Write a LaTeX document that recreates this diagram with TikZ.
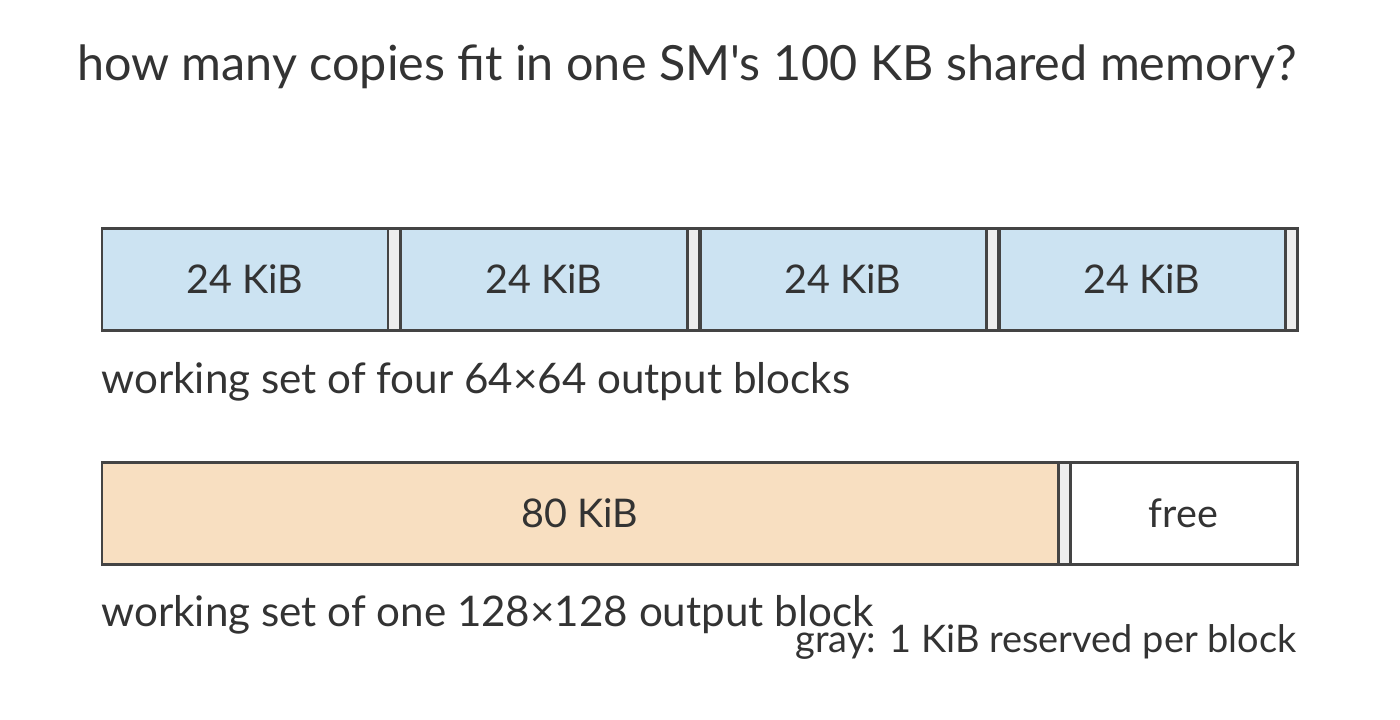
\documentclass[tikz,border=0pt]{standalone}
\usepackage{fontspec}
\setmainfont{Lato}[Ligatures=TeXOff]
\usepackage{tikz}
\usetikzlibrary{positioning,calc}

\definecolor{ink}{HTML}{333333}
\definecolor{edge}{HTML}{444444}
\definecolor{tileblue}{HTML}{CCE3F2}
\definecolor{tileorange}{HTML}{F8DFC1}
\definecolor{reserved}{HTML}{EEEEEE}

\tikzset{
  slab/.style={draw=edge, line width=1.7pt, inner sep=0pt, outer sep=0pt, anchor=north west,
    minimum height=102*0.02cm, text=ink, font=\fontsize{22.5}{27}\selectfont},
  tile/.style={slab, fill=tileblue, minimum width=286*0.02cm},
  bigtile/.style={slab, fill=tileorange, minimum width=956*0.02cm},
  gap/.style={slab, fill=reserved, minimum width=12*0.02cm},
  freetile/.style={slab, fill=white, minimum width=227*0.02cm},
  caption/.style={text=ink, inner sep=0pt, anchor=base west, font=\fontsize{24}{28}\selectfont},
}

\begin{document}
\begin{tikzpicture}[x=0.02cm, y=-0.02cm]
      \useasboundingbox (0,0) rectangle (1400,720);
      \node[text=ink, inner sep=0pt, anchor=base, font=\fontsize{27.6}{32}\selectfont]
        (title) at (687,80) {how many copies fit in one SM's 100 KB shared memory?};
      % four small blocks
      \foreach \i in {1,...,4} {
        \node[tile] (blk\i) at ({102+299*(\i-1)},228.5) {24 KiB};
        \node[gap] (res\i) at (blk\i.north east) {};
      }
      \node[caption] (capA) at (101,393) {working set of four 64×64 output blocks};
      % one big block
      \node[bigtile] (big) at (102,462.5) {80 KiB};
      \node[gap] (resbig) at (big.north east) {};
      \node[freetile] (free) at (resbig.north east) {free};
      \node[caption] (capB) at (101,626) {working set of one 128×128 output block};
      \node[caption, anchor=base east, font=\fontsize{21.6}{26}\selectfont] (note) at (1297,652) {gray: 1 KiB reserved per block};
\end{tikzpicture}
\end{document}
